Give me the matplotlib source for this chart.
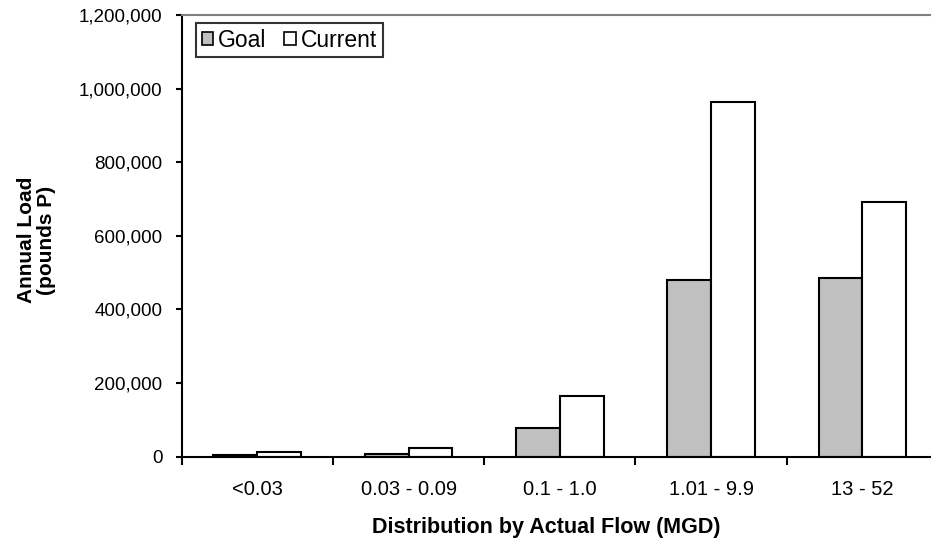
import matplotlib
matplotlib.use("Agg")
import matplotlib.pyplot as plt
import numpy as np
from matplotlib.ticker import FuncFormatter, FixedLocator

plt.rcParams['font.family'] = ['Liberation Sans', 'DejaVu Sans']

categories = ["<0.03", "0.03 - 0.09", "0.1 - 1.0", "1.01 - 9.9", "13 - 52"]
goal = [3000, 7000, 78000, 480000, 486000]
current = [12000, 23000, 165000, 964000, 692000]

W, H = 931, 548
fig = plt.figure(figsize=(W / 100, H / 100), dpi=100)
left, right = 181.7, 938.0
bottom, top = 456.5, 15.0
aw, ah = right - left, bottom - top
ax = fig.add_axes([left / W, 1 - bottom / H, aw / W, ah / H])

x = np.arange(len(categories))
bw = 0.29
ax.bar(x - bw / 2, goal, bw, color="#c0c0c0", edgecolor="black", linewidth=1.5, label="Goal")
ax.bar(x + bw / 2, current, bw, color="white", edgecolor="black", linewidth=1.5, label="Current")

ax.set_xlim(-0.5, len(categories) - 0.5)
ax.set_ylim(0, 1200000)
ax.set_yticks(np.arange(0, 1200001, 200000))
ax.yaxis.set_major_formatter(FuncFormatter(lambda v, p: f"{int(v):,}"))

ax.xaxis.set_major_locator(FixedLocator(np.arange(-0.5, len(categories), 1.0)))
ax.xaxis.set_major_formatter(FuncFormatter(lambda v, p: ""))
ax.xaxis.set_minor_locator(FixedLocator(x))
ax.set_xticks(x, categories, minor=True)
ax.tick_params(axis="x", which="major", direction="out", length=6, width=1.5, color="black")
ax.tick_params(axis="x", which="minor", length=0, pad=17, labelsize=14.5)
ax.tick_params(axis="y", direction="out", length=4, width=1.5, pad=10, labelsize=13.5)

for s in ["left", "bottom"]:
    ax.spines[s].set_linewidth(1.5)
    ax.spines[s].set_color("black")
ax.spines["top"].set_color("#808080")
ax.spines["top"].set_linewidth(1.5)
ax.spines["right"].set_visible(False)

ax.set_xlabel("Distribution by Actual Flow (MGD)", fontsize=15.5, fontweight="bold", va="center")
ax.xaxis.set_label_coords((546 - left) / aw, -(528 - bottom) / ah)
ax.set_ylabel("Annual Load\n(pounds P)", fontsize=15, fontweight="bold", linespacing=1.0, va="center")
ax.yaxis.set_label_coords(-(left - 36.5) / aw, (bottom - 240) / ah)

leg = ax.legend(loc="upper left", bbox_to_anchor=((196 - left) / aw, 1 - (23 - top) / ah),
                ncol=2, frameon=True, fancybox=False, edgecolor="black", fontsize=16.5,
                handlelength=0.5, handleheight=0.5, handletextpad=0.2, columnspacing=0.8,
                borderpad=0.25, borderaxespad=0)
leg.get_frame().set_linewidth(1.5)
for p in leg.get_patches():
    p.set_linewidth(1.2)

fig.savefig("out.png", dpi=100)
